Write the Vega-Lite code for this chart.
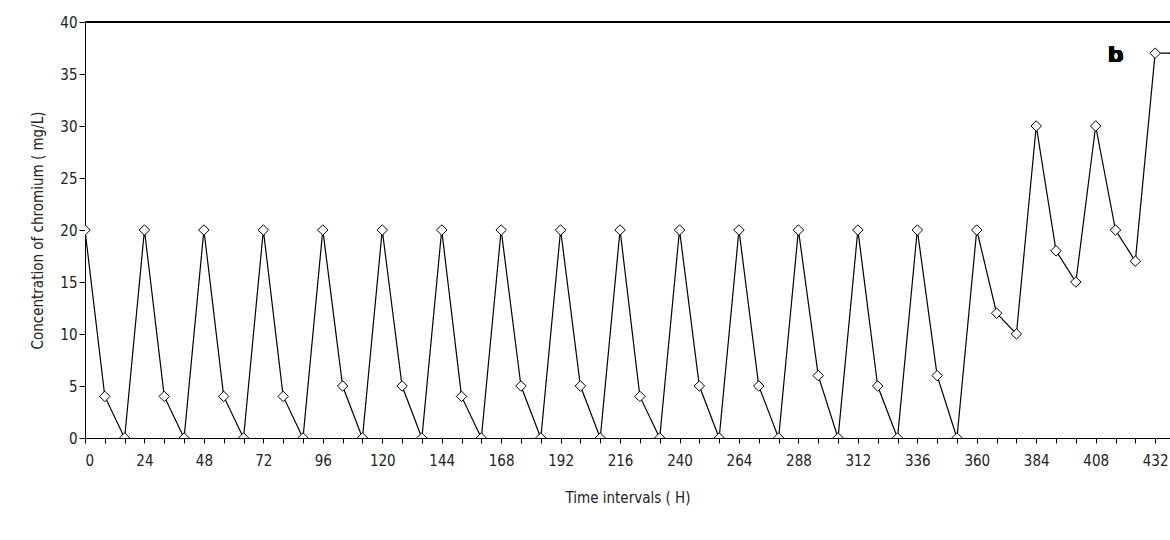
{
  "$schema": "https://vega.github.io/schema/vega-lite/v6.json",
  "width": 1085,
  "height": 416,
  "autosize": "none",
  "padding": {"left": 85, "top": 22, "right": 0, "bottom": 102},
  "background": "white",
  "config": {"view": {"stroke": null}, "axis": {"labelFont": "DejaVu Sans Condensed", "titleFont": "DejaVu Sans Condensed", "labelColor": "#222", "titleColor": "#222", "domainColor": "black", "tickColor": "black", "grid": false, "titleFontWeight": "normal"}},
  "data": {"values": [
    {"t":0,"c":20},{"t":8,"c":4},{"t":16,"c":0},{"t":24,"c":20},{"t":32,"c":4},{"t":40,"c":0},
    {"t":48,"c":20},{"t":56,"c":4},{"t":64,"c":0},{"t":72,"c":20},{"t":80,"c":4},{"t":88,"c":0},
    {"t":96,"c":20},{"t":104,"c":5},{"t":112,"c":0},{"t":120,"c":20},{"t":128,"c":5},{"t":136,"c":0},
    {"t":144,"c":20},{"t":152,"c":4},{"t":160,"c":0},{"t":168,"c":20},{"t":176,"c":5},{"t":184,"c":0},
    {"t":192,"c":20},{"t":200,"c":5},{"t":208,"c":0},{"t":216,"c":20},{"t":224,"c":4},{"t":232,"c":0},
    {"t":240,"c":20},{"t":248,"c":5},{"t":256,"c":0},{"t":264,"c":20},{"t":272,"c":5},{"t":280,"c":0},
    {"t":288,"c":20},{"t":296,"c":6},{"t":304,"c":0},{"t":312,"c":20},{"t":320,"c":5},{"t":328,"c":0},
    {"t":336,"c":20},{"t":344,"c":6},{"t":352,"c":0},{"t":360,"c":20},{"t":368,"c":12},{"t":376,"c":10},
    {"t":384,"c":30},{"t":392,"c":18},{"t":400,"c":15},{"t":408,"c":30},{"t":416,"c":20},{"t":424,"c":17},
    {"t":432,"c":37},{"t":440,"c":37}
  ]},
  "encoding": {
    "x": {"field": "t", "type": "quantitative", "scale": {"domain": [0, 438], "nice": false},
      "axis": {"title": "Time intervals ( H)", "titleFontSize": 15, "titlePadding": 22, "labelFontSize": 15, "labelPadding": 10,
        "values": [0,8,16,24,32,40,48,56,64,72,80,88,96,104,112,120,128,136,144,152,160,168,176,184,192,200,208,216,224,232,240,248,256,264,272,280,288,296,304,312,320,328,336,344,352,360,368,376,384,392,400,408,416,424,432],
        "labelExpr": "datum.value % 24 == 0 ? datum.label : ''", "tickSize": 5}},
    "y": {"field": "c", "type": "quantitative", "scale": {"domain": [0, 40]},
      "axis": {"title": "Concentration of chromium  ( mg/L)", "titleFontSize": 15, "labelFontSize": 15, "values": [0,5,10,15,20,25,30,35,40], "tickSize": 6, "titlePadding": 14}}
  },
  "layer": [
    {"mark": {"type": "line", "color": "black", "strokeWidth": 1.2, "clip": true}},
    {"mark": {"type": "point", "shape": "diamond", "filled": true, "fill": "white", "stroke": "black", "strokeWidth": 1, "size": 110, "opacity": 1, "clip": true}},
    {"mark": {"type": "rule", "color": "black", "strokeWidth": 1.5}, "encoding": {"y": {"datum": 40}, "x": {"datum": 0}, "x2": {"datum": 438}}},
    {"mark": {"type": "text", "text": "b", "fontSize": 22, "fontWeight": "bold", "font": "DejaVu Sans"}, "encoding": {"x": {"datum": 416}, "y": {"datum": 36.8}}}
  ]
}
